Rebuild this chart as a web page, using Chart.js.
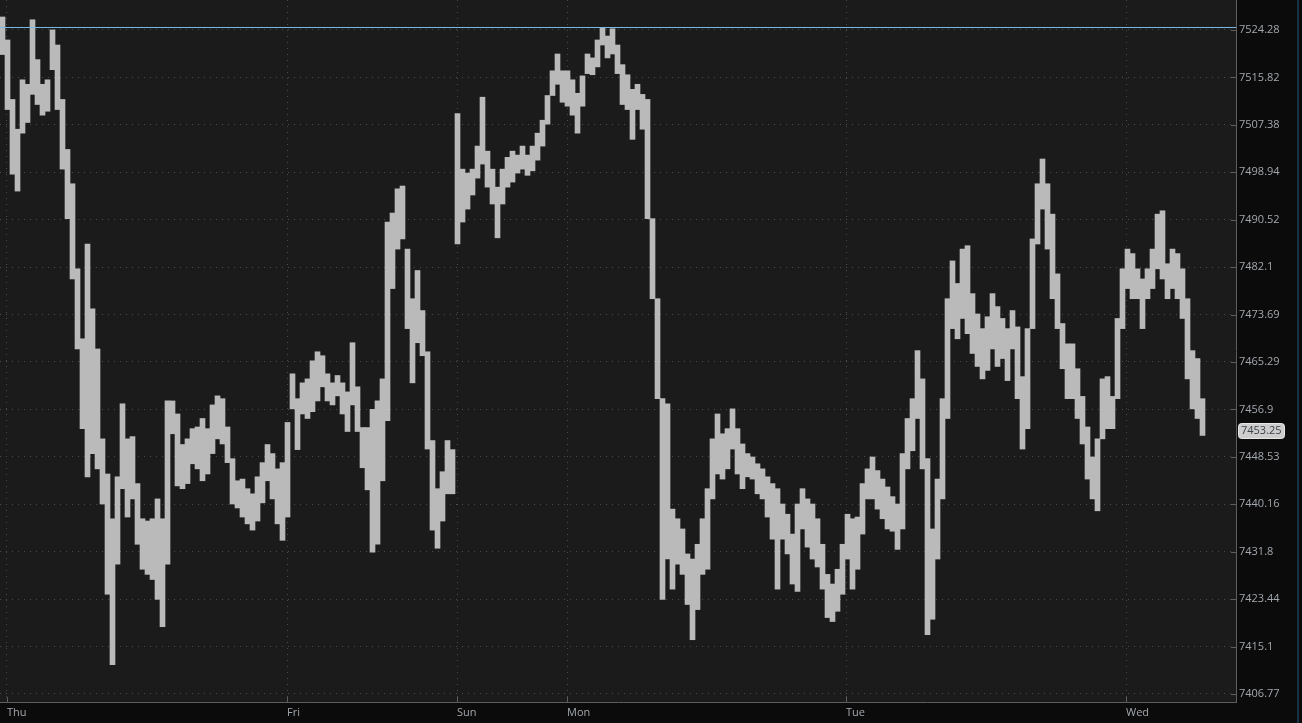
<!DOCTYPE html>
<html>
<head>
<meta charset="utf-8">
<title>Price chart</title>
<script src="https://cdn.jsdelivr.net/npm/chart.js@4.4.1/dist/chart.umd.min.js"></script>
<style>
    html, body { margin: 0; padding: 0; background: #0b0b0b; overflow: hidden; }
    #wrap { position: relative; width: 1302px; height: 723px; }
    #edge { position: absolute; left: 1297px; top: 0; width: 2px; height: 723px; background: #163445; }
</style>
</head>
<body>
<div id="wrap">
    <canvas id="priceChart" width="1302" height="723"></canvas>
    <div id="edge"></div>
</div>
<script>
/* ── data (one bar = one 5px time slot) ── */
const highs = [
    7526.6, 7522.5, 7511.9, 7506.6, 7515.4, 7514.6, 7526.1, 7519.0, 7514.6, 7515.4,
    7524.3, 7521.6, 7511.9, 7503.0, 7496.9, 7481.8, 7469.4, 7486.2, 7474.7, 7467.6,
    7451.7, 7445.5, 7437.6, 7445.0, 7457.9, 7451.7, 7452.1, 7443.8, 7437.6, 7437.2,
    7437.6, 7441.1, 7437.6, 7458.4, 7458.4, 7456.1, 7450.7, 7451.7, 7453.5, 7453.8,
    7455.3, 7453.5, 7457.7, 7459.3, 7458.8, 7453.8, 7448.2, 7444.3, 7444.6, 7442.9,
    7442.0, 7445.0, 7447.5, 7450.7, 7449.1, 7446.4, 7447.5, 7454.6, 7463.2, 7458.8,
    7461.6, 7462.3, 7465.5, 7467.1, 7466.4, 7463.2, 7461.6, 7462.9, 7461.6, 7460.0,
    7468.7, 7460.9, 7453.7, 7453.7, 7456.9, 7458.4, 7462.3, 7490.1, 7491.7, 7496.0,
    7496.5, 7485.3, 7476.5, 7481.5, 7474.4, 7467.1, 7451.4, 7442.9, 7445.9, 7451.4,
    7449.8, 7509.4, 7499.5, 7498.8, 7499.5, 7503.6, 7512.3, 7502.7, 7499.5, 7496.3,
    7499.5, 7501.6, 7502.7, 7502.0, 7503.6, 7502.0, 7503.6, 7505.9, 7508.2, 7512.6,
    7517.0, 7520.0, 7517.0, 7517.0, 7515.4, 7513.0, 7516.1, 7520.0, 7519.3, 7522.5,
    7524.6, 7523.2, 7524.5, 7521.6, 7518.1, 7516.3, 7513.7, 7514.6, 7512.8, 7511.9,
    7490.7, 7476.5, 7458.8, 7457.9, 7439.3, 7437.6, 7435.8, 7431.4, 7430.5, 7433.1,
    7437.6, 7442.9, 7451.7, 7456.1, 7452.6, 7453.5, 7457.0, 7453.5, 7450.8, 7449.1,
    7448.5, 7447.3, 7446.4, 7445.0, 7443.8, 7442.9, 7440.2, 7438.4, 7434.9, 7440.2,
    7442.9, 7441.1, 7440.2, 7437.6, 7433.1, 7427.8, 7426.1, 7428.7, 7433.1, 7438.4,
    7437.6, 7437.9, 7443.8, 7446.4, 7448.5, 7446.1, 7444.6, 7443.2, 7441.5, 7440.2,
    7449.1, 7455.3, 7458.8, 7467.3, 7462.3, 7448.2, 7435.8, 7444.6, 7458.8, 7476.5,
    7483.2, 7479.2, 7485.3, 7485.9, 7477.4, 7473.8, 7471.2, 7473.3, 7477.4, 7475.1,
    7473.0, 7471.2, 7474.4, 7471.5, 7462.7, 7471.2, 7487.1, 7496.9, 7501.3, 7496.9,
    7491.5, 7480.9, 7472.1, 7468.5, 7468.5, 7464.1, 7459.2, 7453.8, 7448.5, 7451.7,
    7462.3, 7462.7, 7459.2, 7473.0, 7481.8, 7485.3, 7484.5, 7481.8, 7480.0, 7481.8,
    7485.3, 7491.5, 7492.1, 7482.7, 7485.3, 7484.5, 7481.8, 7476.5, 7467.3, 7465.9,
    7458.8
];

const lows = [
    7519.9, 7510.1, 7498.6, 7495.6, 7505.9, 7507.8, 7512.8, 7511.0, 7509.1, 7509.8,
    7517.2, 7510.1, 7499.5, 7490.7, 7480.0, 7467.6, 7453.5, 7445.0, 7449.1, 7446.4,
    7440.2, 7424.3, 7411.9, 7429.6, 7442.9, 7437.9, 7441.1, 7433.1, 7428.7, 7427.8,
    7426.9, 7423.4, 7418.6, 7429.6, 7452.6, 7443.4, 7442.9, 7443.8, 7447.3, 7446.4,
    7444.3, 7445.5, 7449.1, 7451.7, 7450.8, 7447.5, 7440.2, 7439.5, 7437.9, 7436.7,
    7435.6, 7437.2, 7440.4, 7444.3, 7441.1, 7436.7, 7433.8, 7437.9, 7457.0, 7449.8,
    7456.1, 7455.3, 7456.5, 7458.4, 7460.9, 7458.4, 7457.7, 7459.3, 7456.1, 7453.0,
    7457.7, 7453.0, 7446.6, 7442.7, 7431.7, 7433.1, 7444.3, 7454.9, 7478.3, 7485.3,
    7487.1, 7471.2, 7461.6, 7468.7, 7466.4, 7449.9, 7435.6, 7432.4, 7437.2, 7442.0,
    7442.0, 7486.2, 7490.1, 7492.4, 7494.9, 7497.9, 7500.4, 7496.3, 7493.3, 7487.3,
    7493.3, 7496.3, 7497.2, 7498.8, 7499.5, 7498.4, 7499.2, 7501.1, 7503.6, 7507.5,
    7512.6, 7514.6, 7511.4, 7510.7, 7509.1, 7505.9, 7510.7, 7516.5, 7516.3, 7517.7,
    7521.6, 7519.3, 7520.0, 7516.5, 7511.0, 7510.1, 7504.8, 7510.1, 7506.6, 7490.7,
    7476.5, 7458.8, 7423.4, 7430.5, 7425.2, 7429.6, 7427.8, 7422.5, 7416.3, 7421.6,
    7427.8, 7428.7, 7441.1, 7445.5, 7444.6, 7446.4, 7449.9, 7445.5, 7442.9, 7445.0,
    7444.6, 7442.0, 7441.1, 7437.9, 7434.0, 7425.2, 7434.0, 7431.4, 7426.1, 7424.8,
    7435.8, 7432.6, 7430.5, 7429.1, 7425.2, 7420.2, 7419.5, 7421.3, 7424.3, 7430.5,
    7425.2, 7428.7, 7434.9, 7441.1, 7441.1, 7439.3, 7437.6, 7435.8, 7435.4, 7432.2,
    7435.8, 7446.4, 7449.6, 7455.3, 7446.4, 7417.2, 7419.9, 7430.5, 7441.1, 7455.3,
    7471.2, 7469.4, 7473.0, 7470.3, 7466.8, 7464.5, 7462.3, 7463.8, 7467.6, 7464.5,
    7465.9, 7462.0, 7467.6, 7458.8, 7449.9, 7453.5, 7471.2, 7486.2, 7492.4, 7485.3,
    7476.5, 7471.2, 7464.1, 7458.8, 7458.8, 7455.3, 7450.8, 7444.6, 7441.1, 7439.0,
    7451.7, 7453.5, 7453.5, 7458.8, 7471.2, 7478.3, 7476.5, 7476.5, 7471.2, 7476.5,
    7478.3, 7481.8, 7480.0, 7476.5, 7478.3, 7476.5, 7473.0, 7462.3, 7457.0, 7455.3,
    7452.3
];

const yTickValues = [
    7524.28, 7515.82, 7507.38, 7498.94, 7490.52, 7482.1, 7473.69, 7465.29,
    7456.9, 7448.53, 7440.16, 7431.8, 7423.44, 7415.1, 7406.77
];

const dayLabels = ['Thu', 'Fri', 'Sun', 'Mon', 'Tue', 'Wed'];
const dayTickAt = [0.9, 56.9, 90.9, 112.9, 168.7, 224.7];   // in bar slots

const lastPrice = 7453.25;
const highLine = 7524.8;

/* ── look ── */
const PLOT_BG = '#1b1b1b';
const BAR_COLOR = '#bababa';
const GRID_COLOR = '#4c4c4c';
const AXIS_COLOR = '#5e5e5e';
const TEXT_COLOR = '#a3a8ae';
const FONT = { family: "'Open Sans', 'Noto Sans', sans-serif", size: 11 };
const AXIS_W = 66;
const AXIS_H = 21;

const chartFrame = {
    id: 'chartFrame',
    beforeDraw(chart) {
        const { ctx, chartArea: a } = chart;
        ctx.save();
        ctx.fillStyle = PLOT_BG;
        ctx.fillRect(a.left, a.top, a.right - a.left, a.bottom - a.top);
        ctx.restore();
    },
    afterDatasetsDraw(chart) {
        const { ctx, chartArea: a, scales: { x, y } } = chart;
        ctx.save();

        // tick marks sit inside the plot
        ctx.strokeStyle = AXIS_COLOR;
        ctx.lineWidth = 1;
        ctx.beginPath();
        yTickValues.forEach(v => {
            const py = Math.round(y.getPixelForValue(v)) + 0.5;
            ctx.moveTo(a.right - 5, py);
            ctx.lineTo(a.right, py);
        });
        dayTickAt.forEach(v => {
            const px = Math.round(x.getPixelForValue(v)) + 0.5;
            ctx.moveTo(px, a.bottom - 5);
            ctx.lineTo(px, a.bottom);
        });
        ctx.stroke();

        // session high line
        const hy = Math.round(y.getPixelForValue(highLine)) + 0.5;
        ctx.strokeStyle = '#78b9e6';
        ctx.beginPath();
        ctx.moveTo(a.left, hy);
        ctx.lineTo(a.right, hy);
        ctx.stroke();

        // last price tag
        const ly = y.getPixelForValue(lastPrice);
        const bx = a.right + 2.5, bw = 46, bh = 15;
        ctx.fillStyle = '#cdcdcd';
        ctx.strokeStyle = '#e6e6e6';
        ctx.beginPath();
        ctx.roundRect(bx, Math.round(ly - bh / 2) + 0.5, bw, bh, 3);
        ctx.fill();
        ctx.stroke();
        ctx.fillStyle = '#3b4149';
        ctx.font = `${FONT.size}px ${FONT.family}`;
        ctx.textBaseline = 'middle';
        ctx.fillText(String(lastPrice), bx + 2.5, ly + 0.5);

        ctx.restore();
    }
};

function buildChart() {
    const ctx = document.getElementById('priceChart');
    const bars = highs.map((h, i) => ({ x: i, y: [lows[i], h] }));

    return new Chart(ctx, {
        type: 'bar',
        data: {
            datasets: [{
                data: bars,
                backgroundColor: BAR_COLOR,
                borderWidth: 0,
                barPercentage: 1,
                categoryPercentage: 1,
                grouped: false
            }]
        },
        options: {
            responsive: false,
            devicePixelRatio: 1,
            animation: false,
            layout: { padding: 0 },
            plugins: { legend: { display: false }, tooltip: { enabled: false } },
            scales: {
                x: {
                    type: 'linear',
                    min: -0.5,
                    max: 246.7,
                    offset: false,
                    afterBuildTicks: s => { s.ticks = dayTickAt.map(v => ({ value: v })); },
                    afterFit: s => {
                        s.height = AXIS_H;
                        s.paddingLeft = 0; s.paddingRight = 0;
                    },
                    grid: { color: GRID_COLOR, drawTicks: false, offset: false },
                    border: { display: true, color: AXIS_COLOR, dash: [1, 5] },
                    ticks: {
                        color: TEXT_COLOR,
                        font: FONT,
                        padding: 4,
                        align: 'start',
                        maxRotation: 0,
                        autoSkip: false,
                        callback: (v, i) => dayLabels[i]
                    }
                },
                y: {
                    type: 'logarithmic',
                    position: 'right',
                    min: 7405.36,
                    max: 7529.63,
                    afterBuildTicks: s => { s.ticks = yTickValues.map(v => ({ value: v })); },
                    afterFit: s => {
                        s.width = AXIS_W;
                        s.paddingTop = 0; s.paddingBottom = 0;
                    },
                    grid: { color: GRID_COLOR, drawTicks: false },
                    border: { display: true, color: AXIS_COLOR, dash: [1, 5] },
                    ticks: {
                        color: TEXT_COLOR,
                        font: FONT,
                        padding: 3,
                        autoSkip: false,
                        callback: v => String(v)
                    }
                }
            }
        },
        plugins: [chartFrame]
    });
}

buildChart();
</script>
</body>
</html>
